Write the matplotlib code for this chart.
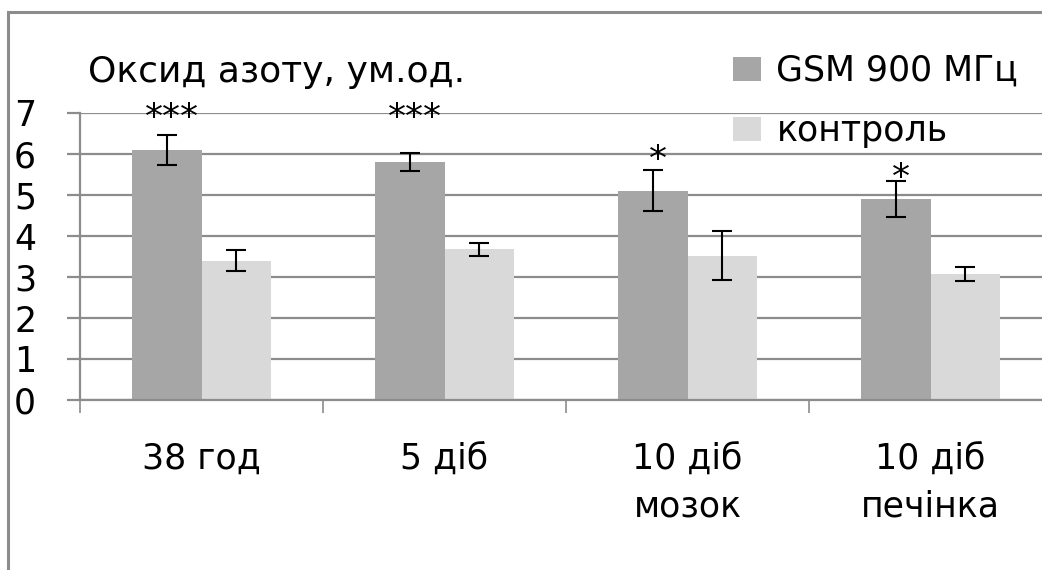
import numpy as np
import matplotlib
matplotlib.use("Agg")
import matplotlib.pyplot as plt
from matplotlib.patches import Rectangle

plt.rcParams['font.family'] = ['DejaVu Sans']

#%% data
categories = ["38 год", "5 діб", "10 діб\nмозок", "10 діб\nпечінка"]
gsm = [6.1, 5.8, 5.1, 4.9]
gsm_err = [0.36, 0.22, 0.5, 0.44]
control = [3.4, 3.68, 3.52, 3.07]
control_err = [0.26, 0.16, 0.6, 0.17]
stars = ["***", "***", "*", "*"]
star_y = [6.64, 6.64, 5.62, 5.17]

dark = "#a6a6a6"
light = "#d9d9d9"
grey = "#8c8c8c"

#%% plot
fig = plt.figure(figsize=(10.42, 5.70), dpi=100)
ax = fig.add_axes([80/1042, 170/570, 972/1042, 287/570])

x = np.arange(len(categories))
w = 0.284
ax.bar(x - w/2, gsm, w, color=dark, label="GSM 900 МГц", zorder=2)
ax.bar(x + w/2, control, w, color=light, label="контроль", zorder=2)
ekw = dict(fmt="none", ecolor="black", elinewidth=1.5, capsize=7, capthick=1.5, zorder=3)
ax.errorbar(x - w/2, gsm, yerr=gsm_err, **ekw)
ax.errorbar(x + w/2, control, yerr=control_err, **ekw)

# significance marks
for i in range(len(stars)):
    ax.text(x[i] - w/2 + 0.02, star_y[i], stars[i], ha="center", va="baseline", fontsize=26)

ax.set_xlim(-0.5, len(categories) - 0.5)
ax.set_ylim(0, 7)
ax.set_yticks(range(0, 8))
ax.yaxis.grid(True, color=grey, lw=1.6, zorder=0)
ax.set_axisbelow(True)
for s in ["top", "right"]:
    ax.spines[s].set_visible(False)
for s in ["left", "bottom"]:
    ax.spines[s].set_color(grey)
    ax.spines[s].set_linewidth(1.6)
ax.tick_params(axis="y", length=9.5, width=1.6, color=grey, labelsize=25, pad=22)
ax.set_xticks(x)
ax.set_xticklabels(categories, fontsize=25, linespacing=1.5)
ax.set_xticks(np.arange(-0.5, len(categories)), minor=True)
ax.tick_params(axis="x", which="major", length=0, pad=30)
ax.tick_params(axis="x", which="minor", length=9, width=1.2, color=grey)

fig.text(88/1042, 1 - 82/570, "Оксид азоту, ум.од.", fontsize=26, va="baseline")

fig.legend(loc="upper left", bbox_to_anchor=(733/1042, 1 - 54/570), frameon=False,
           fontsize=25, handlelength=0.8, handleheight=0.7, handletextpad=0.45,
           labelspacing=0.75, borderpad=0, borderaxespad=0)

fig.patches.append(Rectangle((8/1042, -0.5), 2, 1.5 - 12/570, transform=fig.transFigure,
                             fill=False, edgecolor=grey, lw=2.2))

plt.savefig("out.png", dpi=100)
